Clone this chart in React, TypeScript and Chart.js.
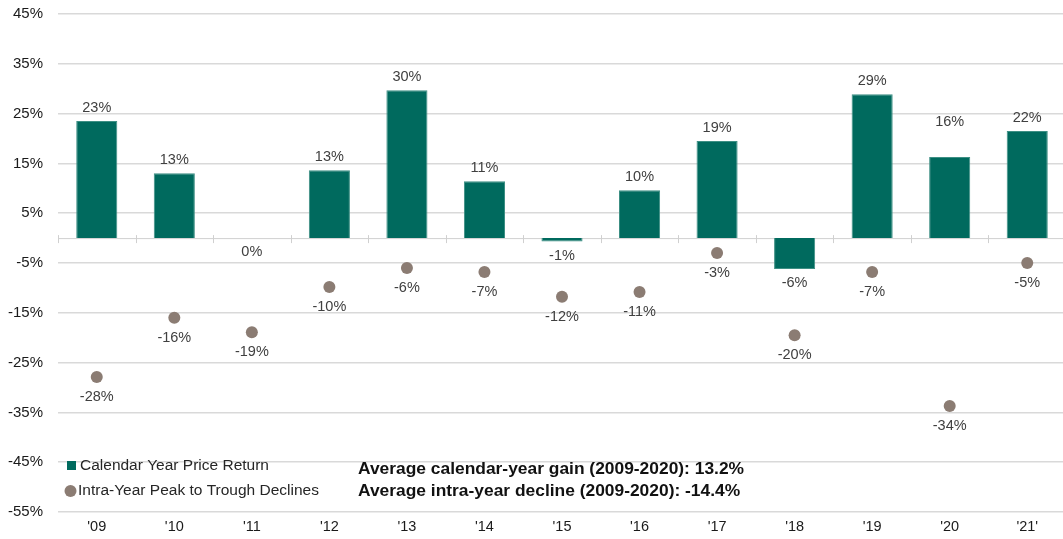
import React, { useEffect, useRef } from "react";
import { Chart, registerables } from "chart.js";

Chart.register(...registerables);

const categories = ["'09", "'10", "'11", "'12", "'13", "'14", "'15", "'16", "'17", "'18", "'19", "'20", "'21'"];
const priceReturn = [23.5, 13.0, 0, 13.6, 29.7, 11.4, -0.7, 9.6, 19.5, -6.2, 28.9, 16.3, 21.5];
const priceReturnLabels = ["23%", "13%", "0%", "13%", "30%", "11%", "-1%", "10%", "19%", "-6%", "29%", "16%", "22%"];
const peakToTrough = [-27.9, -16.0, -18.9, -9.8, -6.0, -6.8, -11.8, -10.8, -3.0, -19.5, -6.8, -33.7, -5.0];
const peakToTroughLabels = ["-28%", "-16%", "-19%", "-10%", "-6%", "-7%", "-12%", "-11%", "-3%", "-20%", "-7%", "-34%", "-5%"];
const yTicks = { min: -55, max: 45, step: 10 };
const legendLabels = ["Calendar Year Price Return", "Intra-Year Peak to Trough Declines"];
const noteLines = [
  "Average calendar-year gain (2009-2020): 13.2%",
  "Average intra-year decline (2009-2020): -14.4%",
];

const BAR_COLOR = "#006A5E";
const BAR_BORDER = "#3d8f84";
const DOT_COLOR = "#8B7C73";
const LABEL_COLOR = "#404040";
const FONT = "'Liberation Sans', Arial, sans-serif";
const extraLift: Record<number, number> = { 11: 22 };

const overlayPlugin = {
  id: "overlay",
  beforeDatasetsDraw(chart: any) {
    const { ctx, chartArea, scales } = chart;
    const y0 = scales.y.getPixelForValue(0);
    const n = categories.length;
    const w = (chartArea.right - chartArea.left) / n;
    ctx.save();
    ctx.strokeStyle = "#d0d0d0";
    ctx.lineWidth = 1;
    ctx.beginPath();
    ctx.moveTo(chartArea.left, y0 + 0.5);
    ctx.lineTo(chartArea.right, y0 + 0.5);
    for (let i = 0; i <= n; i++) {
      const x = Math.round(chartArea.left + i * w) + 0.5;
      ctx.moveTo(x, y0 - 3);
      ctx.lineTo(x, y0 + 5);
    }
    ctx.stroke();
    ctx.restore();
  },
  afterDatasetsDraw(chart: any) {
    const { ctx } = chart;
    ctx.save();
    ctx.font = `14.5px ${FONT}`;
    ctx.fillStyle = LABEL_COLOR;
    ctx.textAlign = "center";
    ctx.textBaseline = "middle";
    const barMeta = chart.getDatasetMeta(0);
    barMeta.data.forEach((el: any, i: number) => {
      const v = priceReturn[i];
      const lift = extraLift[i] || 0;
      if (v > 0) {
        ctx.fillText(priceReturnLabels[i], el.x, el.y - 13 - lift);
      } else {
        const bottom = Math.max(el.y, el.base);
        ctx.fillText(priceReturnLabels[i], el.x, bottom + 14);
      }
    });
    const dotMeta = chart.getDatasetMeta(1);
    dotMeta.data.forEach((el: any, i: number) => {
      ctx.fillText(peakToTroughLabels[i], el.x, el.y + 20);
    });

    // legend
    ctx.textAlign = "left";
    ctx.font = `15.5px ${FONT}`;
    ctx.fillStyle = BAR_COLOR;
    ctx.fillRect(67, 461, 9, 9);
    ctx.fillStyle = "#262626";
    ctx.fillText(legendLabels[0], 80, 466);
    ctx.fillStyle = DOT_COLOR;
    ctx.beginPath();
    ctx.arc(70.5, 491, 6, 0, Math.PI * 2);
    ctx.fill();
    ctx.fillStyle = "#262626";
    ctx.fillText(legendLabels[1], 78, 491);

    // note
    ctx.font = `bold 17.4px ${FONT}`;
    ctx.fillStyle = "#111";
    ctx.fillText(noteLines[0], 358, 469);
    ctx.fillText(noteLines[1], 358, 491);
    ctx.restore();
  },
};

export default function App() {
  const ref = useRef<HTMLCanvasElement | null>(null);
  useEffect(() => {
    if (!ref.current) return;
    const chart = new Chart(ref.current, {
      type: "bar",
      data: {
        labels: categories,
        datasets: [
          {
            type: "bar",
            label: legendLabels[0],
            data: priceReturn,
            backgroundColor: BAR_COLOR,
            borderColor: BAR_BORDER,
            borderWidth: 1,
            barPercentage: 0.53,
            categoryPercentage: 1,
            order: 2,
          },
          {
            type: "line",
            label: legendLabels[1],
            data: peakToTrough,
            showLine: false,
            pointRadius: 6,
            pointHoverRadius: 6,
            pointBackgroundColor: DOT_COLOR,
            pointBorderWidth: 0,
            borderColor: DOT_COLOR,
            order: 1,
          },
        ] as any,
      },
      options: {
        responsive: false,
        animation: false,
        layout: { padding: { top: 14, right: 0, bottom: 0, left: 0 } },
        plugins: { legend: { display: false }, tooltip: { enabled: false } },
        scales: {
          x: {
            grid: { display: false, drawTicks: false },
            border: { display: false },
            ticks: { color: "#1a1a1a", font: { family: FONT, size: 14.5 }, padding: 6, maxRotation: 0 },
            afterFit: (s: any) => {
              s.height = 27;
            },
          },
          y: {
            min: yTicks.min,
            max: yTicks.max,
            grid: { color: "#d9d9d9", lineWidth: 1.5, drawTicks: false },
            border: { display: false },
            ticks: {
              stepSize: yTicks.step,
              color: "#1a1a1a",
              font: { family: FONT, size: 15 },
              padding: 15,
              callback: (v: any) => `${v}%`,
            },
            afterFit: (s: any) => {
              s.width = 58;
              s.paddingTop = 0;
              s.paddingBottom = 0;
            },
          },
        },
      },
      plugins: [overlayPlugin],
    });
    return () => chart.destroy();
  }, []);
  return (
    <div style={{ position: "fixed", left: 0, top: 0, width: 1072, height: 539, background: "#fff" }}>
      <canvas ref={ref} width={1072} height={539} style={{ display: "block" }} />
    </div>
  );
}
